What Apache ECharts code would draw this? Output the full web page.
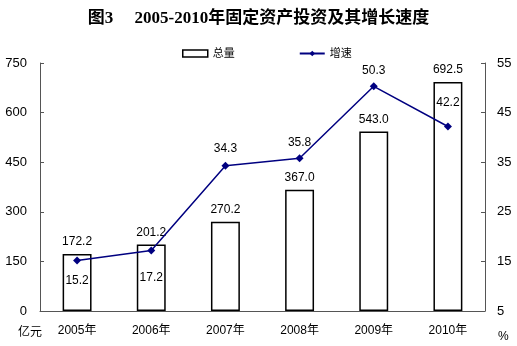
<!DOCTYPE html>
<html>
<head>
<meta charset="utf-8">
<script src="https://cdn.jsdelivr.net/npm/echarts@6/dist/echarts.min.js"></script>
<style>html,body{margin:0;padding:0;background:#fff}#c{width:517px;height:346px}</style>
</head>
<body>
<div id="c"></div>
<script>
var categories = ['2005年', '2006年', '2007年', '2008年', '2009年', '2010年'];
var totalValues = [172.2, 201.2, 270.2, 367.0, 543.0, 692.5];
var growthValues = [15.2, 17.2, 34.3, 35.8, 50.3, 42.2];
var seriesNames = ['总量', '增速'];

// label placement for the growth line (style only)
var growthLabelStyle = [
  {position: 'bottom', distance: 10},
  {position: 'bottom', distance: 17},
  {position: 'top', distance: 7},
  {position: 'top', distance: 6},
  {position: 'top', distance: 6},
  {position: 'top', distance: 14}
];

var sans = "'Liberation Sans', Arial, 'Noto Sans CJK SC', sans-serif";
var chart = echarts.init(document.getElementById('c'), null, {renderer: 'canvas'});
chart.setOption({
  animation: false,
  backgroundColor: '#fff',
  title: {
    text: '图3　 2005-2010年固定资产投资及其增长速度',
    left: 'center',
    top: 5,
    textStyle: {fontSize: 17, fontWeight: 'bold', color: '#000', fontFamily: "'Liberation Serif', 'Noto Sans CJK SC', serif"}
  },
  legend: {
    left: 177,
    top: 43,
    itemWidth: 25,
    itemHeight: 7,
    itemGap: 64,
    textStyle: {fontSize: 11, color: '#000', fontFamily: sans},
    data: [
      {name: seriesNames[0], icon: 'rect', itemStyle: {color: '#fff', borderColor: '#000', borderWidth: 1.5}},
      {name: seriesNames[1]}
    ]
  },
  grid: {left: 40, right: 32, top: 63, bottom: 35, containLabel: false},
  xAxis: {
    type: 'category',
    data: categories,
    boundaryGap: true,
    axisLine: {lineStyle: {color: '#555', width: 1}},
    axisTick: {inside: true, length: 4, lineStyle: {color: '#555'}},
    axisLabel: {color: '#000', fontSize: 12, margin: 14, fontFamily: sans}
  },
  yAxis: [
    {
      type: 'value', min: 0, max: 750, interval: 150,
      splitLine: {show: false},
      axisLine: {show: true, lineStyle: {color: '#555'}},
      axisTick: {show: true, inside: true, length: 4, lineStyle: {color: '#555'}},
      axisLabel: {color: '#000', fontSize: 13, margin: 13, fontFamily: sans}
    },
    {
      type: 'value', min: 5, max: 55, interval: 10,
      splitLine: {show: false},
      axisLine: {show: true, lineStyle: {color: '#555'}},
      axisTick: {show: true, inside: true, length: 4, lineStyle: {color: '#555'}},
      axisLabel: {color: '#000', fontSize: 13, margin: 12, fontFamily: sans}
    }
  ],
  graphic: [
    {type: 'text', left: 18, top: 327, style: {text: '亿元', fontSize: 12, fill: '#000', fontFamily: sans}},
    {type: 'text', left: 498, top: 331, style: {text: '%', fontSize: 12, fill: '#000', fontFamily: sans}}
  ],
  series: [
    {
      name: seriesNames[0],
      type: 'bar',
      yAxisIndex: 0,
      barWidth: '39%',
      data: totalValues,
      itemStyle: {color: '#fff', borderColor: '#000', borderWidth: 1.5},
      label: {show: true, position: 'top', distance: 6, color: '#000', fontSize: 12, fontFamily: sans,
        formatter: function (p) { return p.value.toFixed(1); }}
    },
    {
      name: seriesNames[1],
      type: 'line',
      yAxisIndex: 1,
      z: 5,
      symbol: 'diamond',
      symbolSize: 8,
      lineStyle: {color: '#000080', width: 1.5},
      itemStyle: {color: '#000080'},
      data: growthValues.map(function (v, i) {
        return {value: v, label: {position: growthLabelStyle[i].position, distance: growthLabelStyle[i].distance}};
      }),
      label: {show: true, color: '#000', fontSize: 12, fontFamily: sans,
        formatter: function (p) { return p.value.toFixed(1); }}
    }
  ]
});
</script>
</body>
</html>
